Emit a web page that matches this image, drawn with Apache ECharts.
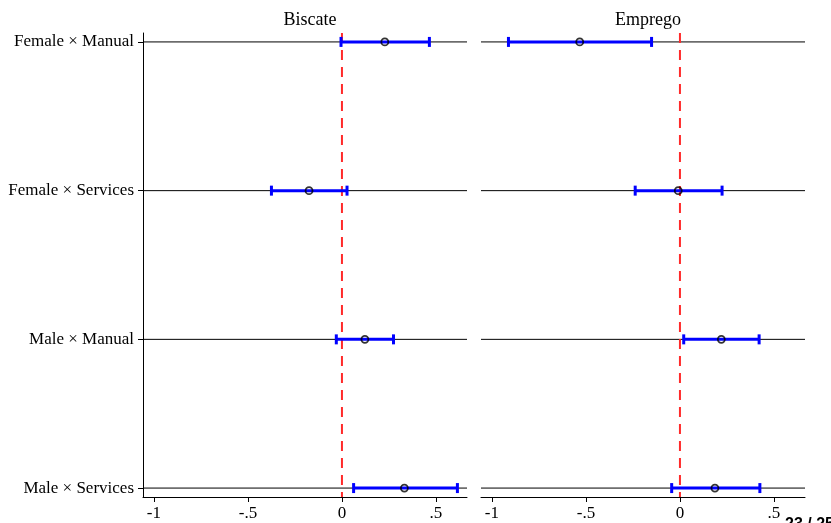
<!DOCTYPE html>
<html>
<head>
<meta charset="utf-8">
<script src="https://cdn.jsdelivr.net/npm/echarts@6/dist/echarts.min.js"></script>
<style>
  html, body { margin: 0; padding: 0; background: #fff; }
  #chart { width: 831px; height: 523px; }
</style>
</head>
<body>
<div id="chart"></div>
<script>
const categories = ['Female × Manual', 'Female × Services', 'Male × Manual', 'Male × Services']
const panels = ['Biscate', 'Emprego']

const biscateEst = [0.228, -0.175, 0.122, 0.332]
const biscateLow = [-0.005, -0.375, -0.030, 0.062]
const biscateHigh = [0.465, 0.027, 0.274, 0.614]

const empregoEst = [-0.533, -0.009, 0.220, 0.186]
const empregoLow = [-0.912, -0.238, 0.020, -0.044]
const empregoHigh = [-0.151, 0.224, 0.421, 0.425]

const xTicks = [-1, -0.5, 0, 0.5]
const xTickLabels = ['-1', '-.5', '0', '.5']
const yTicks = [1, 2, 3, 4]

const X_MIN = -1.058
const X_MAX = 0.665
const Y_MIN = 0.94
const Y_MAX = 4.06

const font = '"Liberation Serif", "Times New Roman", serif'
const chart = echarts.init(document.getElementById('chart'))

const grids = [
  { left: 143, right: 364, top: 33, bottom: 26 },
  { left: 481, right: 26, top: 33, bottom: 26 }
]

const xAxes = grids.map((g, i) => ({
  type: 'value',
  gridIndex: i,
  min: X_MIN,
  max: X_MAX,
  axisLine: { show: true, onZero: false, lineStyle: { color: '#000', width: 1 } },
  axisTick: { show: true, customValues: xTicks, length: 5, lineStyle: { color: '#000' } },
  axisLabel: {
    customValues: xTicks,
    margin: 8,
    color: '#000',
    fontSize: 17,
    fontFamily: font,
    formatter: v => xTickLabels[xTicks.indexOf(v)]
  },
  splitLine: { show: false }
}))

const yAxes = grids.map((g, i) => ({
  type: 'value',
  gridIndex: i,
  inverse: true,
  min: Y_MIN,
  max: Y_MAX,
  axisLine: { show: i === 0, onZero: false, lineStyle: { color: '#000', width: 1 } },
  axisTick: { show: i === 0, customValues: yTicks, length: 5, lineStyle: { color: '#000' } },
  axisLabel: {
    show: i === 0,
    customValues: yTicks,
    margin: 9,
    color: '#000',
    fontSize: 17,
    fontFamily: font,
    padding: [3, 0, 0, 0],
    formatter: v => categories[v - 1]
  },
  splitLine: { show: false }
}))

const renderBar = (params, api) => {
  const y = api.value(0)
  const p1 = api.coord([api.value(1), y])
  const p2 = api.coord([api.value(2), y])
  const h = 5
  const style = { stroke: '#0000ff', lineWidth: 3 }
  return {
    type: 'group',
    children: [
      { type: 'line', shape: { x1: p1[0], y1: p1[1], x2: p2[0], y2: p2[1] }, style },
      { type: 'line', shape: { x1: p1[0], y1: p1[1] - h, x2: p1[0], y2: p1[1] + h }, style },
      { type: 'line', shape: { x1: p2[0], y1: p2[1] - h, x2: p2[0], y2: p2[1] + h }, style }
    ]
  }
}

const panelData = [
  { est: biscateEst, low: biscateLow, high: biscateHigh },
  { est: empregoEst, low: empregoLow, high: empregoHigh }
]

// one horizontal reference line per category, broken with '-'
const refLine = []
yTicks.forEach(y => {
  refLine.push([X_MIN, y], [X_MAX, y], '-')
})

const series = []
panelData.forEach((d, i) => {
  series.push({
    type: 'line',
    xAxisIndex: i,
    yAxisIndex: i,
    z: 1,
    silent: true,
    symbol: 'none',
    connectNulls: false,
    lineStyle: { color: '#000', width: 1 },
    data: refLine
  })
  series.push({
    type: 'line',
    xAxisIndex: i,
    yAxisIndex: i,
    z: 2,
    silent: true,
    symbol: 'none',
    lineStyle: { color: '#ff2a2a', width: 2, type: [10, 7] },
    data: [[0, Y_MIN], [0, Y_MAX]]
  })
  series.push({
    type: 'custom',
    xAxisIndex: i,
    yAxisIndex: i,
    z: 3,
    renderItem: renderBar,
    encode: { x: [1, 2], y: 0 },
    data: yTicks.map((y, k) => [y, d.low[k], d.high[k]])
  })
  series.push({
    type: 'scatter',
    xAxisIndex: i,
    yAxisIndex: i,
    z: 4,
    symbol: 'circle',
    symbolSize: 7,
    itemStyle: { color: 'rgba(0,0,0,0)', borderColor: '#000', borderWidth: 1.8 },
    data: yTicks.map((y, k) => [d.est[k], y])
  })
})

const option = {
  animation: false,
  backgroundColor: '#fff',
  title: panels.map((t, i) => ({
    text: t,
    left: i === 0 ? 305 : 643,
    top: 6,
    textAlign: 'center',
    textStyle: { fontFamily: font, fontSize: 18, fontWeight: 'normal', color: '#000' }
  })),
  grid: grids,
  xAxis: xAxes,
  yAxis: yAxes,
  series,
  graphic: [{
    type: 'text',
    left: 785,
    top: 517,
    style: { text: '23 / 25', fontFamily: 'Liberation Sans, Arial, sans-serif', fontWeight: 'bold', fontSize: 16, fill: '#000' }
  }]
}

chart.setOption(option)
</script>
</body>
</html>
